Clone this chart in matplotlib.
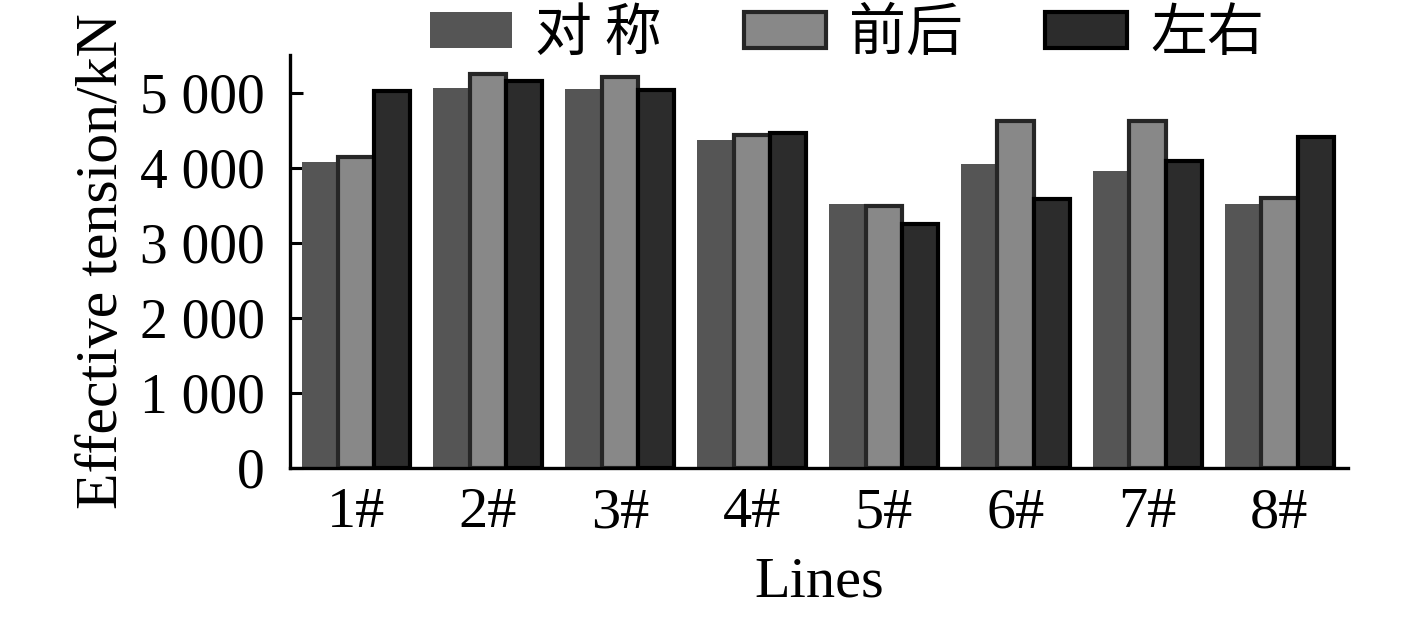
import matplotlib
matplotlib.use("Agg")
import matplotlib.pyplot as plt
import numpy as np

categories = ["1#", "2#", "3#", "4#", "5#", "6#", "7#", "8#"]
series_names = ["对 称", "前后", "左右"]
sym_vals = [4070, 5060, 5045, 4365, 3513, 4050, 3958, 3513]
fb_vals = [4135, 5245, 5205, 4430, 3495, 4620, 4620, 3593]
lr_vals = [5015, 5150, 5040, 4460, 3247, 3580, 4087, 4407]
ytick_vals = [0, 1000, 2000, 3000, 4000, 5000]
ytick_labels = ["0", "1 000", "2 000", "3 000", "4 000", "5 000"]

plt.rcParams['font.family'] = ['Liberation Serif', 'DejaVu Serif']

fig = plt.figure(figsize=(14.17, 6.19), dpi=100)
ax = fig.add_axes([290/1417, 1-468/619, (1348-290)/1417, (468-55)/619])

x = np.arange(len(categories))
w = 0.275
b1 = ax.bar(x - w, sym_vals, w, color="#555555", linewidth=0, label=series_names[0], zorder=2)
b2 = ax.bar(x, fb_vals, w, color="#888888", edgecolor="#262626", linewidth=3, label=series_names[1], zorder=3)
b3 = ax.bar(x + w, lr_vals, w, color="#2c2c2c", edgecolor="#000000", linewidth=3, label=series_names[2], zorder=4)

ax.set_xlim(-0.5, 7.52)
ax.set_ylim(0, 5500)
ax.set_xticks(x)
ax.set_xticklabels(categories)
ax.set_yticks(ytick_vals)
ax.set_yticklabels(ytick_labels)

for s in ["top", "right"]:
    ax.spines[s].set_visible(False)
for s in ["left", "bottom"]:
    ax.spines[s].set_linewidth(2.4)
    ax.spines[s].set_zorder(6)

ax.tick_params(axis='both', direction='in', length=9, width=2.2)
ax.tick_params(axis='y', pad=18, labelsize=40)
ax.tick_params(axis='x', pad=14, labelsize=42)

ax.set_ylabel("Effective tension/kN", fontsize=43, labelpad=7)
ax.set_xlabel("Lines", fontsize=42, labelpad=12)

leg = fig.legend(handles=[b1, b2, b3], labels=series_names, loc='center',
                 bbox_to_anchor=(847/1417, 1-34/619), ncol=3, frameon=False,
                 prop={'family': ['Noto Sans CJK SC', 'DejaVu Sans'], 'size': 41},
                 handlelength=1.44, handleheight=0.58, handletextpad=0.4,
                 columnspacing=1.45, borderaxespad=0, borderpad=0)

fig.savefig("out.png", dpi=100)
